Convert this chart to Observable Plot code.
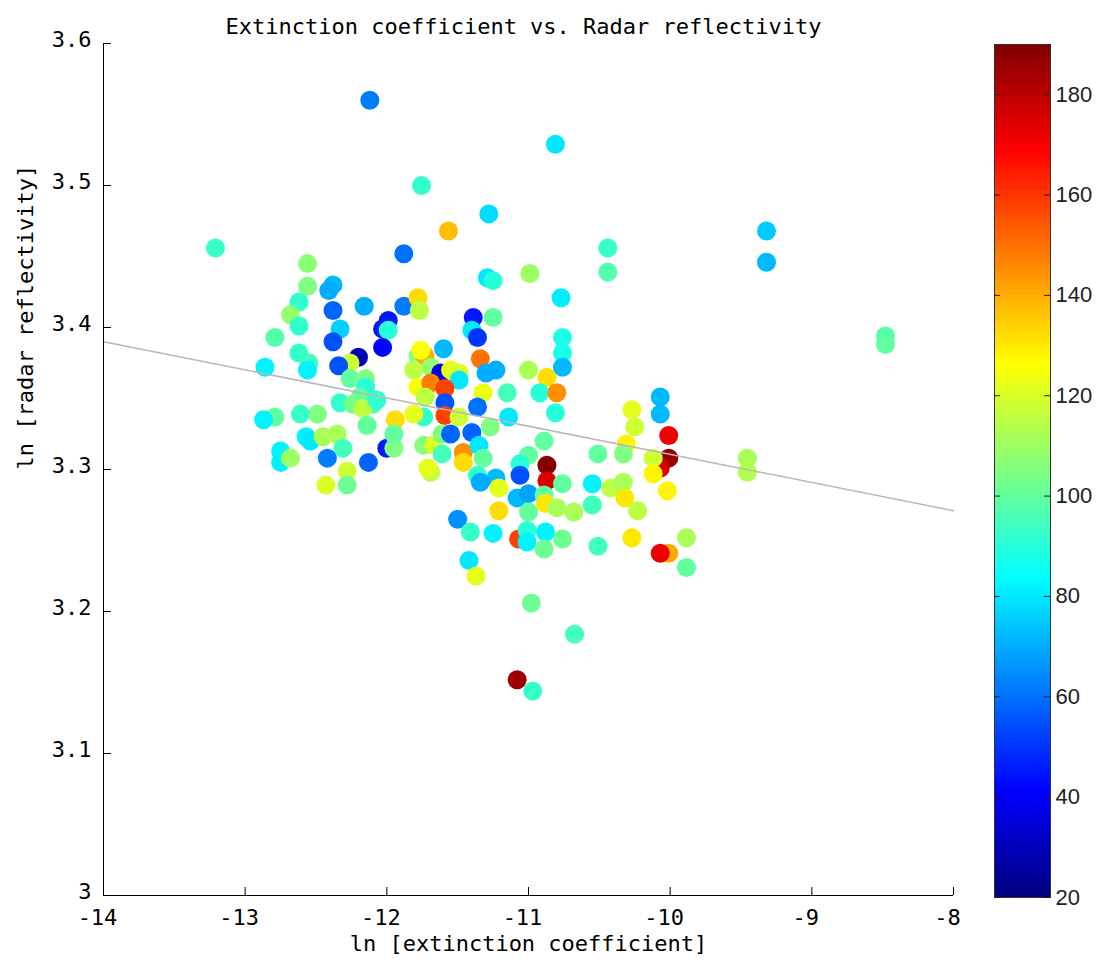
<!DOCTYPE html>
<html>
<head>
<meta charset="utf-8">
<script src="https://cdn.jsdelivr.net/npm/d3@7"></script>
<script src="https://cdn.jsdelivr.net/npm/@observablehq/plot@0.6"></script>
<style>
  html, body { margin: 0; padding: 0; background: #fff; }
  #chart { position: relative; width: 1096px; height: 967px; }
  #chart svg { position: absolute; top: 0; }
</style>
</head>
<body>
<div id="chart"></div>
<script>
// ln(extinction coefficient), ln(radar reflectivity) and colour value for each sample
const lnExt = [
  -12.12, -10.81, -11.755, -13.21, -11.88, -11.565, -11.28, -9.32, -9.32, -10.44,
  -10.44, -10.99, -10.77, -8.48, -8.48, -9.455, -9.455, -9.885, -9.885, -10.01,
  -10.07, -10.98, -10.675, -11.08, -10.97, -11.42, -11.37,
  -12.56, -12.56, -12.38, -12.41, -12.62, -12.68, -12.62, -12.79, -12.38, -12.16,
  -11.88, -11.78, -11.77, -12.33, -12.38, -11.99, -12.03, -11.99, -12.03, -12.62,
  -12.55, -12.56, -12.86, -12.20, -12.26, -12.34, -12.26, -12.15, -12.15, -12.33,
  -12.19, -12.10, -12.24, -12.17, -12.07,
  -11.60, -11.78, -11.73, -11.76, -11.69, -11.62, -11.55, -11.49, -11.49, -11.81,
  -11.78, -11.69, -11.59, -11.73, -11.59, -11.59, -11.74, -11.81, -11.34, -11.39,
  -11.40, -11.36, -11.29, -11.25, -11.32, -11.30, -11.36, -11.94, -12.49, -12.61,
  -12.79, -12.87, -11.25,
  -10.76, -10.76, -10.76, -11.00, -10.87, -10.92, -10.80, -10.81, -11.15, -11.23,
  -10.27, -10.25, -10.07, -10.07, -11.14, -10.01, -10.31, -10.33, -10.51, -10.89,
  -10.01, -10.07, -10.12, -10.12, -10.02, -10.87, -10.87, -11.00, -11.06, -11.06,
  -11.23, -10.76, -10.55, -10.42, -10.33, -10.32, -10.23, -11.21, -11.08, -11.00,
  -10.89, -10.88, -10.80, -10.68, -10.55, -11.00, -11.21, -11.25, -11.07, -11.01,
  -10.88, -11.01, -10.89, -10.76, -10.51, -10.27,
  -12.75, -12.75, -12.68, -12.57, -12.54, -12.45, -12.35, -12.31, -12.42, -12.28,
  -12.43, -12.28, -12.13, -12.14, -12.00, -11.95, -11.95, -11.74, -11.67, -11.61,
  -11.69, -11.71, -11.61, -11.55, -11.40, -11.46, -11.46, -11.35, -11.32, -11.36,
  -11.34, -11.50, -11.41, -11.49, -11.27
];
const lnRefl = [
  3.560, 3.529, 3.500, 3.456, 3.452, 3.468, 3.480, 3.468, 3.446, 3.456,
  3.439, 3.438, 3.421, 3.394, 3.388, 3.308, 3.298, 3.252, 3.231, 3.241,
  3.241, 3.206, 3.184, 3.152, 3.144, 3.236, 3.225,
  3.445, 3.429, 3.430, 3.426, 3.418, 3.409, 3.401, 3.393, 3.412, 3.415,
  3.415, 3.421, 3.412, 3.399, 3.390, 3.405, 3.399, 3.398, 3.386, 3.382,
  3.375, 3.370, 3.372, 3.379, 3.375, 3.373, 3.364, 3.364, 3.358, 3.347,
  3.351, 3.346, 3.346, 3.343, 3.349,
  3.385, 3.380, 3.380, 3.384, 3.372, 3.368, 3.370, 3.368, 3.363, 3.370,
  3.358, 3.361, 3.357, 3.351, 3.347, 3.338, 3.337, 3.339, 3.378, 3.407,
  3.398, 3.393, 3.435, 3.433, 3.354, 3.368, 3.344, 3.335, 3.339, 3.339,
  3.337, 3.335, 3.407,
  3.393, 3.382, 3.372, 3.370, 3.365, 3.354, 3.354, 3.340, 3.354, 3.370,
  3.342, 3.330, 3.351, 3.339, 3.337, 3.324, 3.318, 3.311, 3.311, 3.320,
  3.308, 3.301, 3.308, 3.297, 3.285, 3.303, 3.292, 3.310, 3.304, 3.296,
  3.294, 3.290, 3.290, 3.287, 3.291, 3.280, 3.271, 3.287, 3.280, 3.283,
  3.282, 3.276, 3.273, 3.270, 3.275, 3.270, 3.271, 3.255, 3.251, 3.257,
  3.256, 3.249, 3.244, 3.251, 3.246, 3.252,
  3.313, 3.305, 3.308, 3.323, 3.320, 3.323, 3.325, 3.315, 3.308, 3.299,
  3.289, 3.289, 3.305, 3.331, 3.315, 3.315, 3.325, 3.317, 3.317, 3.311,
  3.298, 3.301, 3.325, 3.325, 3.326, 3.312, 3.305, 3.317, 3.308, 3.296,
  3.291, 3.265, 3.256, 3.337, 3.330
];
const level = [
  62, 80, 92, 93, 60, 137, 78, 75, 72, 93,
  98, 110, 81, 98, 100, 112, 113, 112, 100, 140,
  172, 102, 95, 185, 93, 80, 122,
  107, 105, 72, 70, 92, 108, 92, 98, 58, 70,
  62, 132, 115, 76, 55, 45, 45, 90, 42, 92,
  95, 82, 82, 28, 118, 55, 100, 105, 90, 92,
  100, 95, 103, 115, 92,
  72, 105, 140, 125, 108, 38, 122, 120, 80, 115,
  125, 148, 158, 115, 55, 158, 92, 122, 150, 45,
  80, 50, 80, 90, 123, 70, 60, 132, 105, 93,
  100, 82, 100,
  88, 88, 72, 112, 132, 90, 145, 90, 95, 70,
  122, 118, 72, 72, 80, 172, 128, 105, 100, 100,
  186, 175, 118, 128, 128, 189, 175, 100, 90, 55,
  72, 100, 82, 115, 112, 130, 115, 122, 72, 68,
  100, 130, 112, 112, 95, 100, 132, 82, 158, 90,
  82, 82, 102, 102, 95, 130,
  82, 82, 110, 82, 80, 112, 112, 95, 62, 118,
  120, 102, 58, 100, 45, 105, 100, 105, 120, 95,
  115, 122, 105, 58, 58, 145, 132, 80, 100, 92,
  70, 65, 93, 118, 105
];

// least-squares fit line end points
const fitX = [-14, -8];
const fitY = [3.390, 3.271];

const xTicks = [-14, -13, -12, -11, -10, -9, -8];
const yTicks = [3, 3.1, 3.2, 3.3, 3.4, 3.5, 3.6];
const cbarTicks = [20, 40, 60, 80, 100, 120, 140, 160, 180];
const colorDomain = [20, 190];

const titleText = "Extinction coefficient vs. Radar reflectivity";
const xLabel = "ln [extinction coefficient]";
const yLabel = "ln [radar reflectivity]";

// classic "jet" colormap
function jet(t) {
  const c = v => Math.max(0, Math.min(1, v));
  const r = c(1.5 - Math.abs(4 * t - 3));
  const g = c(1.5 - Math.abs(4 * t - 2));
  const b = c(1.5 - Math.abs(4 * t - 1));
  return `rgb(${Math.round(r * 255)},${Math.round(g * 255)},${Math.round(b * 255)})`;
}

const points = lnExt.map((x, i) => ({x, y: lnRefl[i], v: level[i]}));
const fit = fitX.map((x, i) => ({x, y: fitY[i]}));

const monoFont = "DejaVu Sans Mono";

const main = Plot.plot({
  width: 1096,
  height: 967,
  marginLeft: 103,
  marginRight: 143,
  marginTop: 43,
  marginBottom: 72,
  style: {fontFamily: monoFont, fontSize: "22px", color: "#000", background: "#fff"},
  x: {domain: [-14, -8], axis: null},
  y: {domain: [3, 3.6], axis: null},
  color: {type: "linear", domain: colorDomain, interpolate: jet},
  marks: [
    Plot.dot(points, {x: "x", y: "y", fill: "v", r: 9.5, stroke: null}),
    Plot.line(fit, {x: "x", y: "y", stroke: "#b8b8b8", strokeWidth: 1.5}),
    Plot.ruleX([-14], {stroke: "#000", strokeWidth: 1}),
    Plot.ruleY([3], {stroke: "#000", strokeWidth: 1}),
    // inward tick marks
    Plot.axisX({ticks: xTicks, tickSize: -8, tickFormat: () => "", label: null}),
    Plot.axisY({ticks: yTicks, tickSize: -8, tickFormat: () => "", label: null}),
    // tick labels
    Plot.axisX({ticks: xTicks, tickSize: 0, tickPadding: 14, tickFormat: d => String(d),
      dx: -6, fontSize: 22, fontFamily: monoFont, label: null}),
    Plot.axisY({ticks: yTicks, tickSize: 0, tickPadding: 12, tickFormat: d => String(d),
      dy: -4, fontSize: 22, fontFamily: monoFont, label: null}),
    Plot.text([titleText], {frameAnchor: "top", dy: -25, dx: -5, fontSize: 22, fontFamily: monoFont}),
    Plot.text([xLabel], {frameAnchor: "bottom", dy: 55, fontSize: 22, fontFamily: monoFont}),
    Plot.text([yLabel], {frameAnchor: "left", dx: -78, rotate: -90, fontSize: 22, fontFamily: monoFont})
  ]
});
main.style.left = "0px";

// colour bar beside the plot
const bands = d3.range(colorDomain[0], colorDomain[1], 1);
const cbar = Plot.plot({
  width: 116,
  height: 967,
  marginLeft: 14,
  marginRight: 46,
  marginTop: 44,
  marginBottom: 70,
  style: {fontFamily: "Liberation Sans", fontSize: "22px", color: "#222", background: "transparent"},
  x: {domain: [0, 1], axis: null},
  y: {domain: colorDomain, axis: null},
  color: {type: "linear", domain: colorDomain, interpolate: jet},
  marks: [
    Plot.rect(bands, {x1: 0, x2: 1, y1: d => d, y2: d => d + 1, fill: d => d + 0.5, shapeRendering: "crispEdges"}),
    Plot.frame({stroke: "#333", strokeWidth: 1}),
    Plot.ruleY(cbarTicks, {x1: 0, x2: 0.11, stroke: "#222"}),
    Plot.ruleY(cbarTicks, {x1: 0.89, x2: 1, stroke: "#222"}),
    Plot.axisY({anchor: "right", ticks: cbarTicks, tickSize: 0, tickPadding: 5, stroke: "#222",
      fontSize: 22, fontFamily: "Liberation Sans", label: null})
  ]
});
cbar.style.left = "980px";

const host = document.getElementById("chart");
host.appendChild(main);
host.appendChild(cbar);
</script>
</body>
</html>
